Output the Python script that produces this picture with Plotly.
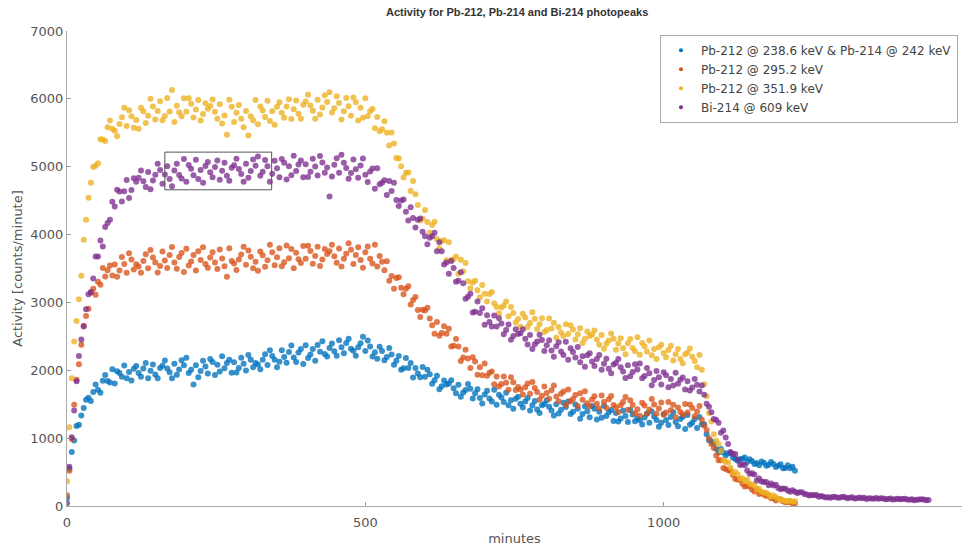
import plotly.graph_objects as go

# Sample times (minutes): every 4 minutes
minutes_short = list(range(0, 1221, 4))
minutes_long = list(range(0, 1446, 4))

# Pb-212 @ 238.6 keV & Pb-214 @ 242 keV  (counts/minute)
pb212_238 = [
    118, 548, 794, 964, 1180, 1196, 1332, 1446, 1564, 1594,
    1546, 1680, 1792, 1712, 1670, 1844, 1929, 1841, 1820, 2015,
    1806, 1985, 1961, 1906, 2072, 1882, 1976, 1849, 2022, 2064,
    1961, 1904, 2027, 2106, 1884, 1992, 2085, 1938, 1882, 2034,
    2067, 2144, 2027, 1970, 1882, 2095, 1933, 2010, 2148, 2076,
    2183, 1961, 2009, 1790, 2074, 1897, 1989, 2142, 2055, 1952,
    2165, 2123, 1930, 2083, 1981, 2208, 2031, 2109, 2156, 1964,
    2117, 1969, 2032, 2185, 2097, 1995, 2226, 2157, 2043, 2109,
    2085, 2016, 2157, 2238, 2079, 2295, 2211, 2157, 2043, 2124,
    2295, 2196, 2112, 2268, 2364, 2190, 2121, 2262, 2313, 2094,
    2370, 2181, 2232, 2314, 2140, 2372, 2273, 2429, 2241, 2202,
    2329, 2395, 2281, 2213, 2441, 2338, 2251, 2403, 2466, 2318,
    2288, 2215, 2338, 2400, 2493, 2285, 2438, 2351, 2204, 2267,
    2170, 2345, 2286, 2149, 2194, 2330, 2232, 2082, 2140, 2211,
    2009, 2030, 2181, 2033, 2106, 1893, 2033, 1952, 1897, 2050,
    1906, 2007, 1940, 1800, 1853, 1918, 1719, 1766, 1851, 1792,
    1804, 1853, 1734, 1663, 1786, 1609, 1671, 1710, 1797, 1727,
    1586, 1660, 1722, 1592, 1510, 1644, 1698, 1583, 1541, 1714,
    1492, 1641, 1599, 1532, 1670, 1483, 1560, 1432, 1581, 1610,
    1507, 1452, 1541, 1593, 1406, 1483, 1548, 1421, 1369, 1485,
    1504, 1560, 1461, 1409, 1334, 1498, 1362, 1419, 1523, 1460,
    1540, 1357, 1390, 1495, 1432, 1285, 1354, 1471, 1396, 1309,
    1474, 1434, 1273, 1389, 1300, 1476, 1327, 1383, 1414, 1254,
    1369, 1245, 1288, 1404, 1327, 1239, 1414, 1350, 1249, 1293,
    1264, 1201, 1306, 1363, 1228, 1393, 1318, 1267, 1168, 1225,
    1354, 1268, 1195, 1313, 1383, 1238, 1176, 1282, 1317, 1135,
    1341, 1197, 1228, 1281, 1148, 1311, 1204, 1204, 1056, 968,
    955, 925, 845, 790, 840, 790, 744, 778, 782, 716,
    694, 666, 690, 698, 714, 650, 688, 662, 620, 634,
    600, 654, 636, 594, 608, 650, 620, 574, 592, 614,
    556, 560, 600, 558, 577, 518,
]

# Pb-212 @ 295.2 keV
pb212_295 = [
    160, 520, 988, 1492, 1862, 2090, 2376, 2656, 2800, 2908,
    3141, 3202, 3113, 3303, 3262, 3507, 3381, 3476, 3545, 3396,
    3558, 3378, 3469, 3669, 3565, 3437, 3725, 3633, 3485, 3564,
    3529, 3437, 3611, 3710, 3504, 3773, 3662, 3589, 3440, 3538,
    3749, 3618, 3507, 3699, 3816, 3590, 3497, 3671, 3730, 3448,
    3792, 3545, 3603, 3698, 3471, 3756, 3624, 3814, 3568, 3511,
    3663, 3740, 3588, 3494, 3779, 3647, 3533, 3380, 3800, 3610,
    3572, 3478, 3631, 3707, 3822, 3557, 3767, 3673, 3503, 3598,
    3466, 3752, 3696, 3526, 3622, 3851, 3738, 3549, 3664, 3798,
    3533, 3592, 3840, 3651, 3786, 3502, 3731, 3637, 3582, 3830,
    3642, 3834, 3759, 3571, 3686, 3821, 3538, 3634, 3788, 3713,
    3753, 3850, 3681, 3586, 3795, 3529, 3643, 3719, 3871, 3776,
    3567, 3700, 3814, 3624, 3510, 3738, 3823, 3642, 3575, 3850,
    3530, 3685, 3600, 3475, 3605, 3320, 3388, 3202, 3361, 3370,
    3215, 3119, 3203, 3239, 2971, 3034, 3080, 2887, 2784, 2891,
    2882, 2920, 2763, 2665, 2538, 2711, 2509, 2549, 2650, 2540,
    2611, 2351, 2362, 2462, 2352, 2135, 2188, 2301, 2174, 2032,
    2191, 2129, 1936, 2043, 1928, 2100, 1920, 1962, 1982, 1796,
    1909, 1762, 1797, 1910, 1815, 1712, 1898, 1823, 1710, 1753,
    1718, 1644, 1751, 1807, 1655, 1827, 1740, 1679, 1566, 1625,
    1761, 1664, 1581, 1705, 1777, 1615, 1545, 1656, 1689, 1489,
    1717, 1542, 1575, 1635, 1473, 1662, 1566, 1690, 1515, 1470,
    1569, 1616, 1507, 1437, 1628, 1532, 1449, 1574, 1621, 1487,
    1456, 1386, 1485, 1532, 1606, 1419, 1557, 1487, 1365, 1426,
    1330, 1522, 1480, 1360, 1422, 1575, 1494, 1361, 1436, 1524,
    1346, 1379, 1533, 1410, 1491, 1309, 1450, 1387, 1349, 1502,
    1379, 1497, 1446, 1323, 1393, 1474, 1272, 1182, 1120, 996,
    914, 856, 745, 673, 673, 559, 546, 525, 521, 458,
    399, 392, 384, 328, 286, 298, 291, 244, 215, 245,
    178, 190, 170, 146, 158, 114, 115, 82, 98, 96,
    69, 57, 59, 58, 38, 40,
]

# Pb-212 @ 351.9 keV
pb212_351 = [
    364, 1160, 1884, 2424, 2728, 3048, 3392, 3922, 4218, 4544,
    4765, 4995, 5015, 5050, 5405, 5400, 5380, 5580, 5680, 5560,
    5530, 5450, 5630, 5730, 5870, 5600, 5832, 5744, 5576, 5688,
    5560, 5868, 5816, 5644, 5752, 6000, 5888, 5696, 5822, 5964,
    5686, 5748, 6011, 5813, 6130, 5658, 5900, 5803, 5745, 6008,
    5810, 6008, 5927, 5725, 5843, 5982, 5680, 5778, 5937, 5855,
    5894, 5992, 5810, 5706, 5922, 5638, 5754, 5470, 5986, 5882,
    5658, 5794, 5910, 5706, 5582, 5820, 5460, 5742, 5684, 5985,
    5626, 5888, 5830, 5731, 5973, 5674, 5816, 5618, 5883, 5950,
    5796, 5722, 5889, 5995, 5702, 5848, 5974, 5781, 5707, 5914,
    5960, 6062, 5903, 5825, 5706, 5988, 5770, 5871, 6053, 5954,
    6096, 5798, 5860, 6040, 5939, 5697, 5816, 6014, 5892, 5751,
    6020, 5950, 5680, 5870, 5720, 6010, 5744, 5818, 5852, 5566,
    5734, 5524, 5552, 5669, 5500, 5314, 5503, 5343, 5130, 5121,
    5008, 4840, 4911, 4914, 4642, 4788, 4595, 4435, 4207, 4234,
    4363, 4187, 4027, 4141, 4190, 3933, 3794, 3904, 3915, 3620,
    3886, 3625, 3636, 3676, 3423, 3629, 3460, 3581, 3311, 3210,
    3294, 3320, 3178, 3077, 3257, 3128, 3014, 3124, 3153, 2987,
    2934, 2838, 2924, 2955, 3013, 2796, 2933, 2846, 2703, 2755,
    2640, 2833, 2777, 2639, 2698, 2854, 2759, 2607, 2680, 2768,
    2563, 2594, 2765, 2614, 2702, 2481, 2638, 2557, 2506, 2680,
    2533, 2665, 2602, 2454, 2530, 2621, 2403, 2466, 2570, 2506,
    2526, 2588, 2453, 2375, 2521, 2316, 2392, 2439, 2543, 2465,
    2302, 2394, 2472, 2326, 2236, 2398, 2462, 2330, 2282, 2486,
    2228, 2403, 2354, 2277, 2438, 2221, 2312, 2165, 2340, 2375,
    2256, 2193, 2299, 2362, 2145, 2237, 2314, 2167, 2105, 2238,
    2258, 2320, 2200, 2136, 2044, 2225, 2008, 1793, 1616, 1371,
    1245, 1057, 961, 912, 809, 675, 650, 643, 564, 480,
    502, 467, 403, 410, 365, 387, 327, 318, 304, 243,
    249, 209, 197, 197, 165, 138, 155, 131, 102, 99,
    85, 70, 76, 77, 63, 69,
]

# Bi-214 @ 609 keV
bi214_609 = [
    40, 580, 1012, 1408, 1838, 2210, 2454, 2644, 2900, 3122,
    3152, 3354, 3676, 3676, 3914, 3824, 4112, 4172, 4220, 4482,
    4412, 4662, 4636, 4486, 4640, 4803, 4540, 4657, 4831, 4777,
    4837, 4944, 4785, 4702, 4923, 4669, 4795, 4883, 5043, 4953,
    4749, 4886, 5005, 4820, 4711, 4944, 5043, 4877, 4825, 5115,
    4778, 5026, 4970, 4875, 5104, 4820, 4953, 4764, 5012, 5070,
    4919, 4844, 4997, 5092, 4808, 4942, 5057, 4868, 4792, 4983,
    5022, 5118, 4967, 4892, 4779, 5045, 4838, 4935, 5108, 5015,
    5150, 4867, 4926, 5099, 5006, 4780, 4896, 5088, 4976, 4845,
    5113, 5058, 4813, 5005, 4874, 5161, 4935, 5032, 5091, 4846,
    5038, 4849, 4926, 5116, 5003, 4871, 5157, 5063, 4911, 4988,
    4560, 4857, 5029, 5123, 4912, 5176, 5060, 4982, 4824, 4908,
    5106, 4963, 4838, 5017, 5121, 4882, 4773, 4930, 4973, 4674,
    4978, 4742, 4762, 4802, 4584, 4789, 4643, 4762, 4511, 4420,
    4501, 4516, 4338, 4209, 4401, 4244, 4103, 4219, 4238, 4042,
    3975, 3859, 3952, 3975, 4026, 3756, 3887, 3756, 3560, 3587,
    3422, 3609, 3508, 3305, 3318, 3443, 3281, 3054, 3083, 3129,
    2852, 2864, 3015, 2845, 2913, 2672, 2810, 2710, 2645, 2807,
    2647, 2767, 2691, 2531, 2595, 2674, 2450, 2506, 2603, 2533,
    2547, 2603, 2463, 2380, 2521, 2312, 2383, 2426, 2524, 2445,
    2283, 2370, 2443, 2293, 2198, 2355, 2414, 2277, 2224, 2421,
    2156, 2325, 2271, 2188, 2343, 2120, 2205, 2053, 2222, 2251,
    2129, 2064, 2166, 2227, 2008, 2097, 2171, 2022, 1957, 2087,
    2106, 2167, 2046, 1981, 1888, 2075, 1912, 1973, 2090, 2011,
    2100, 1882, 1916, 2034, 1956, 1780, 1856, 1988, 1896, 1790,
    1971, 1925, 1750, 1873, 1775, 1964, 1801, 1859, 1892, 1716,
    1839, 1703, 1748, 1871, 1787, 1689, 1776, 1641, 1505, 1463,
    1382, 1282, 1266, 1226, 1080, 1114, 1008, 914, 796, 766,
    768, 685, 606, 613, 603, 522, 474, 482, 465, 376,
    407, 360, 354, 352, 307, 332, 301, 313, 267, 248,
    258, 255, 229, 211, 233, 211, 191, 203, 203, 177,
    168, 155, 161, 160, 162, 136, 147, 138, 124, 130,
    121, 137, 132, 120, 124, 137, 129, 116, 122, 128,
    111, 114, 127, 115, 122, 104, 116, 110, 105, 118,
    106, 115, 110, 99, 104, 110, 94, 99, 106, 101,
    103, 107, 97, 91, 101, 86, 91, 94, 101, 95,
    83, 90,
]

series = [
    ("Pb-212 @ 238.6 keV & Pb-214 @ 242 keV", minutes_short, pb212_238, "#0072BD"),
    ("Pb-212 @ 295.2 keV", minutes_short, pb212_295, "#D95319"),
    ("Pb-212 @ 351.9 keV", minutes_short, pb212_351, "#EDB120"),
    ("Bi-214 @ 609 keV", minutes_long, bi214_609, "#7E2F8E"),
]

# Highlighted plateau window on the Bi-214 curve
window_minutes = [164, 343]
window_counts = [4660, 5215]

FONT = "DejaVu Sans, Liberation Sans, Arial, sans-serif"
TITLE_FONT = "Liberation Sans, Arial, sans-serif"

fig = go.Figure()
for name, t, v, color in series:
    fig.add_trace(go.Scatter(
        x=t, y=v, name=name, mode="markers", legendgroup=name, showlegend=False,
        marker=dict(color=color, size=6, opacity=0.78, line=dict(width=0)),
    ))
# Legend keys drawn with small dots
for name, t, v, color in series:
    fig.add_trace(go.Scatter(
        x=[None], y=[None], name=name, mode="markers", legendgroup=name,
        marker=dict(color=color, size=4),
    ))

fig.add_shape(
    type="rect", xref="x", yref="y",
    x0=window_minutes[0], x1=window_minutes[1],
    y0=window_counts[0], y1=window_counts[1],
    line=dict(color="#555555", width=1), fillcolor="rgba(0,0,0,0)",
)

fig.update_layout(
    width=973, height=546,
    margin=dict(l=67, r=11, t=31, b=40),
    paper_bgcolor="white", plot_bgcolor="white",
    font=dict(family=FONT, size=13, color="#555555"),
    title=dict(
        text="<b>Activity for Pb-212, Pb-214 and Bi-214 photopeaks</b>",
        x=0.5315, xanchor="center", y=0.978, yanchor="middle",
        font=dict(family=TITLE_FONT, size=11, color="#333333"),
    ),
    showlegend=True,
    legend=dict(
        x=0.9955, xanchor="right", y=0.992, yanchor="top",
        bgcolor="white", bordercolor="#aaaaaa", borderwidth=1,
        font=dict(size=12, color="#444444"),
        itemsizing="trace", itemwidth=30, tracegroupgap=0,
    ),
    xaxis=dict(
        range=[0, 1500], tickvals=[0, 500, 1000, 1500],
        ticks="inside", ticklen=4, tickcolor="#999999",
        showline=True, linecolor="#aaaaaa", linewidth=1,
        showgrid=False, zeroline=False, mirror=False,
        automargin=False, ticklabelstandoff=4,
        title=dict(text="minutes", standoff=10, font=dict(size=13)),
        tickfont=dict(size=13, color="#555555"),
    ),
    yaxis=dict(
        range=[0, 7000], tickvals=list(range(0, 7001, 1000)),
        ticks="inside", ticklen=4, tickcolor="#999999",
        showline=True, linecolor="#aaaaaa", linewidth=1,
        showgrid=False, zeroline=False, mirror=False,
        automargin=False,
        title=dict(text="Activity [counts/minute]", standoff=4, font=dict(size=13)),
        tickfont=dict(size=13, color="#555555"),
    ),
)

fig.write_html("out.html")
